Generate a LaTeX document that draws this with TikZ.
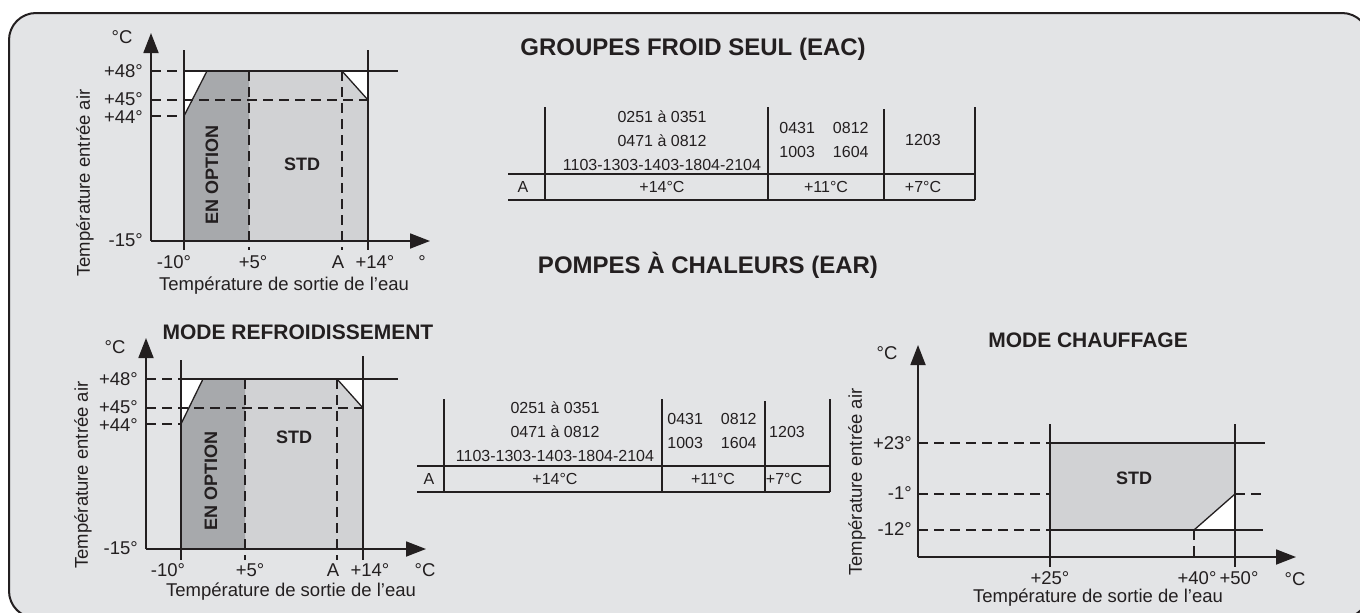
\documentclass[tikz,border=0pt]{standalone}
\usepackage{fontspec}
\setmainfont{Liberation Sans}
\usetikzlibrary{arrows.meta}
\definecolor{fond}{HTML}{E3E4E6}
\definecolor{clair}{HTML}{D1D2D4}
\definecolor{fonce}{HTML}{A7A9AC}
\definecolor{encre}{HTML}{231F20}

\begin{document}
\begin{tikzpicture}[x=1pt,y=-1pt,
  axe/.style={encre,line width=1.8pt,-{Triangle[length=20pt,width=15pt]}},
  trait/.style={encre,line width=1.3pt},
  tiret/.style={encre,line width=1.3pt,dash pattern=on 10pt off 6pt},
  lab/.style={text=encre,inner sep=0pt,font=\fontsize{18.5}{22}\selectfont},
  tab/.style={text=encre,inner sep=0pt,align=center,font=\fontsize{16}{24}\selectfont},
  titre/.style={text=encre,inner sep=0pt,font=\bfseries\fontsize{24}{28}\selectfont},
  mode/.style={text=encre,inner sep=0pt,font=\bfseries\fontsize{21}{25}\selectfont},
  zone/.style={text=encre,inner sep=0pt,font=\bfseries\fontsize{18}{22}\selectfont}]
\useasboundingbox (0,0) rectangle (1360,613);
\draw[encre,fill=fond,line width=2pt,rounded corners=27pt] (9,13) rectangle (1369,618);

% groupes froid seul
\fill[clair] (184,116) -- (207,71) -- (342,71) -- (368,100) -- (368,241) -- (184,241) -- cycle;
\fill[fonce] (184,116) -- (207,71) -- (249,71) -- (249,241) -- (184,241) -- cycle;
\fill[white] (184,71) -- (207,71) -- (184,116) -- cycle;
\fill[white] (342,71) -- (368,71) -- (368,100) -- cycle;
\draw[trait] (184,116) -- (207,71) (342,71) -- (368,100);
\draw[trait] (184,50) -- (184,250) (368,50) -- (368,250) (184,71) -- (398,71);
\draw[tiret] (249,71) -- (249,250) (342,71) -- (342,250);
\draw[tiret] (151,71) -- (184,71) (151,100) -- (368,100) (151,116) -- (184,116);
\draw[axe] (151,241) -- (430,241);
\draw[axe] (151,241) -- (151,33);

\node[lab] (c1deg) at (122,37) {°C};
\node[lab,anchor=east] (c1y48) at (143,71) {+48°};
\node[lab,anchor=east] (c1y45) at (143,99) {+45°};
\node[lab,anchor=east] (c1y44) at (143,117) {+44°};
\node[lab,anchor=east] (c1y15) at (143,240) {-15°};
\node[lab] (c1x10) at (174,262) {-10°};
\node[lab] (c1x5) at (253,262) {+5°};
\node[lab] (c1xA) at (338,262) {A};
\node[lab] (c1x14) at (375,262) {+14°};
\node[lab] (c1xdeg) at (422,262) {°};
\node[lab] (c1xlab) at (284,286) {Température de sortie de l’eau};
\node[lab,rotate=90] (c1ylab) at (85,183) {Température entrée air};
\node[zone,rotate=90] (c1opt) at (212,175) {EN OPTION};
\node[zone] (c1std) at (302,164) {STD};

\node[titre] (gfTitre) at (693,49) {GROUPES FROID SEUL (EAC)};

% tableau EAC
\draw[trait] (545,107) -- (545,200) (768,107) -- (768,200) (884,109) -- (884,200) (975,107) -- (975,200);
\draw[trait] (508,174) -- (975,174) (508,200) -- (975,200);
\node[tab] (eacM1) at (662,141) {0251 à 0351\\0471 à 0812\\1103-1303-1403-1804-2104};
\node[tab] (eacM2) at (824,140) {0431\hspace{18pt}0812\\1003\hspace{18pt}1604};
\node[tab] (eacM3) at (923,140) {1203};
\node[tab] (eacA) at (523,187) {A};
\node[tab] (eacA1) at (662,187) {+14°C};
\node[tab] (eacA2) at (826,187) {+11°C};
\node[tab] (eacA3) at (923,187) {+7°C};

\node[titre] (pacTitre) at (708,265) {POMPES À CHALEURS (EAR)};

% mode refroidissement
\fill[clair] (181,424) -- (203,379) -- (337,379) -- (363,408) -- (363,549) -- (181,549) -- cycle;
\fill[fonce] (181,424) -- (203,379) -- (245,379) -- (245,549) -- (181,549) -- cycle;
\fill[white] (181,379) -- (203,379) -- (181,424) -- cycle;
\fill[white] (337,379) -- (363,379) -- (363,408) -- cycle;
\draw[trait] (181,424) -- (203,379) (337,379) -- (363,408);
\draw[trait] (181,360) -- (181,560) (363,356) -- (363,560) (181,379) -- (398,379);
\draw[tiret] (245,379) -- (245,560) (337,379) -- (337,560);
\draw[tiret] (146,379) -- (181,379) (146,408) -- (363,408) (146,424) -- (181,424);
\draw[axe] (146,549) -- (426,549);
\draw[axe] (146,549) -- (146,338);

\node[mode] (c2titre) at (298,332) {MODE REFROIDISSEMENT};
\node[lab] (c2deg) at (115,347) {°C};
\node[lab,anchor=east] (c2y48) at (138,379) {+48°};
\node[lab,anchor=east] (c2y45) at (138,407) {+45°};
\node[lab,anchor=east] (c2y44) at (138,425) {+44°};
\node[lab,anchor=east] (c2y15) at (138,548) {-15°};
\node[lab] (c2x10) at (168,570) {-10°};
\node[lab] (c2x5) at (250,570) {+5°};
\node[lab] (c2xA) at (333,570) {A};
\node[lab] (c2x14) at (370,570) {+14°};
\node[lab] (c2xdeg) at (425,570) {°C};
\node[lab] (c2xlab) at (291,592) {Température de sortie de l’eau};
\node[lab,rotate=90] (c2ylab) at (83,475) {Température entrée air};
\node[zone,rotate=90] (c2opt) at (211,481) {EN OPTION};
\node[zone] (c2std) at (294,437) {STD};

% tableau EAR
\draw[trait] (444,399) -- (444,492) (662,399) -- (662,492) (765,401) -- (765,492) (830,399) -- (830,492);
\draw[trait] (417,466) -- (830,466) (417,492) -- (830,492);
\node[tab] (earM1) at (555,432) {0251 à 0351\\0471 à 0812\\1103-1303-1403-1804-2104};
\node[tab] (earM2) at (712,431) {0431\hspace{18pt}0812\\1003\hspace{18pt}1604};
\node[tab] (earM3) at (787,432) {1203};
\node[tab] (earA) at (429,479) {A};
\node[tab] (earA1) at (555,479) {+14°C};
\node[tab] (earA2) at (713,479) {+11°C};
\node[tab] (earA3) at (784,479) {+7°C};

% mode chauffage
\fill[clair] (1050,443) -- (1235,443) -- (1235,494) -- (1194,530) -- (1050,530) -- cycle;
\fill[white] (1194,530) -- (1235,494) -- (1235,530) -- cycle;
\draw[trait] (1194,530) -- (1235,494);
\draw[trait] (1050,424) -- (1050,567) (1235,424) -- (1235,567) (1050,443) -- (1265,443) (1050,530) -- (1263,530);
\draw[tiret] (918,443) -- (1050,443) (918,494) -- (1050,494) (1235,494) -- (1263,494) (918,530) -- (1050,530) (1194,530) -- (1194,557);
\draw[axe] (918,557) -- (1296,557);
\draw[axe] (918,557) -- (918,345);

\node[mode] (c3titre) at (1088,340) {MODE CHAUFFAGE};
\node[lab] (c3deg) at (887,353) {°C};
\node[lab,anchor=east] (c3y23) at (912,443) {+23°};
\node[lab,anchor=east] (c3y1) at (912,493) {-1°};
\node[lab,anchor=east] (c3y12) at (912,529) {-12°};
\node[lab] (c3x25) at (1050,578) {+25°};
\node[lab] (c3x40) at (1197,578) {+40°};
\node[lab] (c3x50) at (1239,578) {+50°};
\node[lab] (c3xdeg) at (1295,579) {°C};
\node[lab] (c3xlab) at (1098,598) {Température de sortie de l’eau};
\node[lab,rotate=90] (c3ylab) at (857,482) {Température entrée air};
\node[zone] (c3std) at (1134,478) {STD};
\end{tikzpicture}
\end{document}
